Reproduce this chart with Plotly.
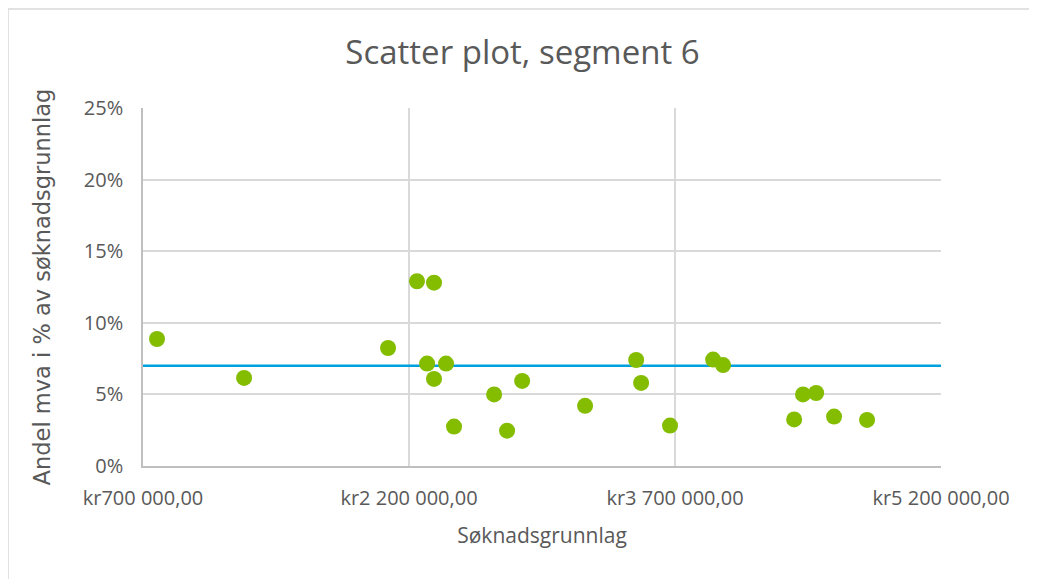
import plotly.graph_objects as go

# Data
soknadsgrunnlag = [779000, 1270000, 2082000, 2245000, 2341000, 2302000, 2341000, 2409000,
                   2454000, 2680000, 2753000, 2838000, 3193000, 3481000, 3509000, 3672000,
                   3915000, 3971000, 4372000, 4422000, 4496000, 4597000, 4783000]
andel_mva = [0.0887, 0.0615, 0.0824, 0.1290, 0.1280, 0.0715, 0.0608, 0.0715,
             0.0275, 0.0500, 0.0247, 0.0594, 0.0420, 0.0740, 0.0580, 0.0282,
             0.0743, 0.0705, 0.0325, 0.0500, 0.0510, 0.0345, 0.0322]
reference_level = 0.07
x_ticks = [700000, 2200000, 3700000, 5200000]
x_tick_labels = ["kr700 000,00", "kr2 200 000,00", "kr3 700 000,00", "kr5 200 000,00"]
y_ticks = [0, 0.05, 0.10, 0.15, 0.20, 0.25]
y_tick_labels = ["0%", "5%", "10%", "15%", "20%", "25%"]

FONT = "Open Sans, sans-serif"
TXT = "#595959"

fig = go.Figure()
fig.add_trace(go.Scatter(
    x=[x_ticks[0], x_ticks[-1]], y=[reference_level, reference_level],
    mode="lines", line=dict(color="#00A0DE", width=2.5),
    hoverinfo="skip", showlegend=False))
fig.add_trace(go.Scatter(
    x=soknadsgrunnlag, y=andel_mva, mode="markers",
    marker=dict(color="#84BD00", size=16, line=dict(width=0)),
    showlegend=False))

W, H = 1029, 571
L, R, T, B = 135, 96, 100, 113
pw, ph = W - L - R, H - T - B

fig.update_layout(
    width=W, height=H,
    margin=dict(l=L, r=R, t=T, b=B),
    paper_bgcolor="white", plot_bgcolor="white",
    font=dict(family=FONT, color=TXT),
    title=dict(text="Scatter plot, segment 6", x=0.5, xanchor="center",
               y=1 - 44 / H, yanchor="middle",
               font=dict(size=33, color=TXT, family=FONT)),
    xaxis=dict(range=[x_ticks[0], x_ticks[-1]], tickvals=x_ticks, ticktext=x_tick_labels,
               showgrid=True, gridcolor="#D9D9D9", gridwidth=1.5,
               showline=True, linecolor="#BFBFBF", linewidth=1.5,
               zeroline=False, ticks="", ticklabelstandoff=13,
               tickfont=dict(size=20, color=TXT),
               title=dict(text="Søknadsgrunnlag", font=dict(size=21, color=TXT), standoff=19)),
    yaxis=dict(range=[0, 0.25], tickvals=y_ticks, ticktext=y_tick_labels,
               showgrid=True, gridcolor="#D9D9D9", gridwidth=1.5,
               showline=True, linecolor="#BFBFBF", linewidth=1.5,
               zeroline=False, ticks="", ticklabelstandoff=14,
               tickfont=dict(size=20, color=TXT),
               title=dict(text="Andel mva i % av søknadsgrunnlag",
                          font=dict(size=22.5, color=TXT, family="DejaVu Sans, sans-serif"),
                          standoff=27)),
)

# light outer chart border (top and left edges of the figure)
fig.add_shape(type="line", xref="paper", yref="paper",
              x0=(0 - L) / pw, x1=(W + 60 - L) / pw,
              y0=(T - 1) / ph + 1, y1=(T - 1) / ph + 1,
              line=dict(color="#D9D9D9", width=1.5), layer="below")
fig.add_shape(type="line", xref="paper", yref="paper",
              x0=(0 - L) / pw, x1=(0 - L) / pw,
              y0=(-(B + 60)) / ph, y1=(T - 1) / ph + 1,
              line=dict(color="#D9D9D9", width=1.5), layer="below")

fig.write_html("out.html")
